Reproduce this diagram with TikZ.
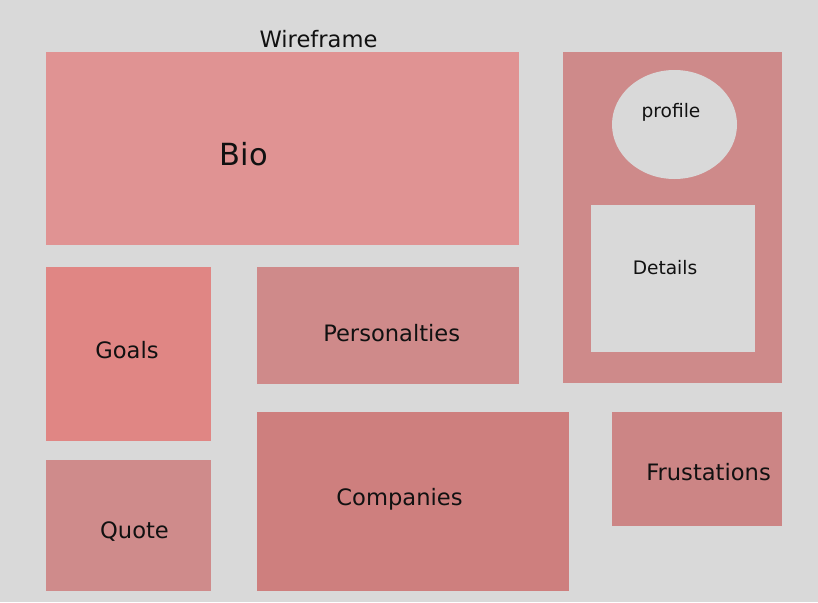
\documentclass[tikz,border=0pt]{standalone}
\usepackage{fontspec}
\setmainfont{DejaVu Sans}
\usetikzlibrary{shapes.geometric}
\definecolor{bg}{HTML}{D9D9D9}
\definecolor{cBio}{HTML}{E09393}
\definecolor{cPanel}{HTML}{CE8A8A}
\definecolor{cGoals}{HTML}{E08684}
\definecolor{cPers}{HTML}{CF8A8A}
\definecolor{cQuote}{HTML}{CF8B8B}
\definecolor{cComp}{HTML}{CE7F7E}
\definecolor{cFrus}{HTML}{CC8585}
\definecolor{ink}{HTML}{111111}
\tikzset{
  lbl/.style={anchor=base, inner sep=0pt, text=ink, font=\fontsize{22.6}{26}\selectfont},
  smalllbl/.style={lbl, font=\fontsize{18.6}{22}\selectfont},
  panelbox/.style={draw=none}
}
\begin{document}
\begin{tikzpicture}[x=1pt,y=-1pt]
\fill[bg] (0,0) rectangle (818,602);
\useasboundingbox (0,0) rectangle (818,602);
% boxes
\fill[cBio] (46,52) rectangle (519,245);
\fill[cPanel] (563,52) rectangle (782,383);
\fill[bg] (674.5,124.5) ellipse [x radius=62.5, y radius=54.5];
\fill[bg] (591,205) rectangle (755,352);
\fill[cGoals] (46,267) rectangle (211,441);
\fill[cPers] (257,267) rectangle (519,384);
\fill[cQuote] (46,460) rectangle (211,591);
\fill[cComp] (257,412) rectangle (569,591);
\fill[cFrus] (612,412) rectangle (782,526);
% labels
\node[lbl] (wire) at (318.5,48) {Wireframe};
\node[lbl, font=\fontsize{30.5}{36}\selectfont] (bio) at (244,165) {Bio};
\node[smalllbl] (profile) at (671,117) {profile};
\node[smalllbl] (details) at (665,274) {Details};
\node[lbl] (goals) at (127,358) {Goals};
\node[lbl] (pers) at (391.7,341) {Personalties};
\node[lbl] (quote) at (134.5,538) {Quote};
\node[lbl] (comp) at (399.5,505) {Companies};
\node[lbl] (frus) at (708.5,480) {Frustations};
\end{tikzpicture}
\end{document}
